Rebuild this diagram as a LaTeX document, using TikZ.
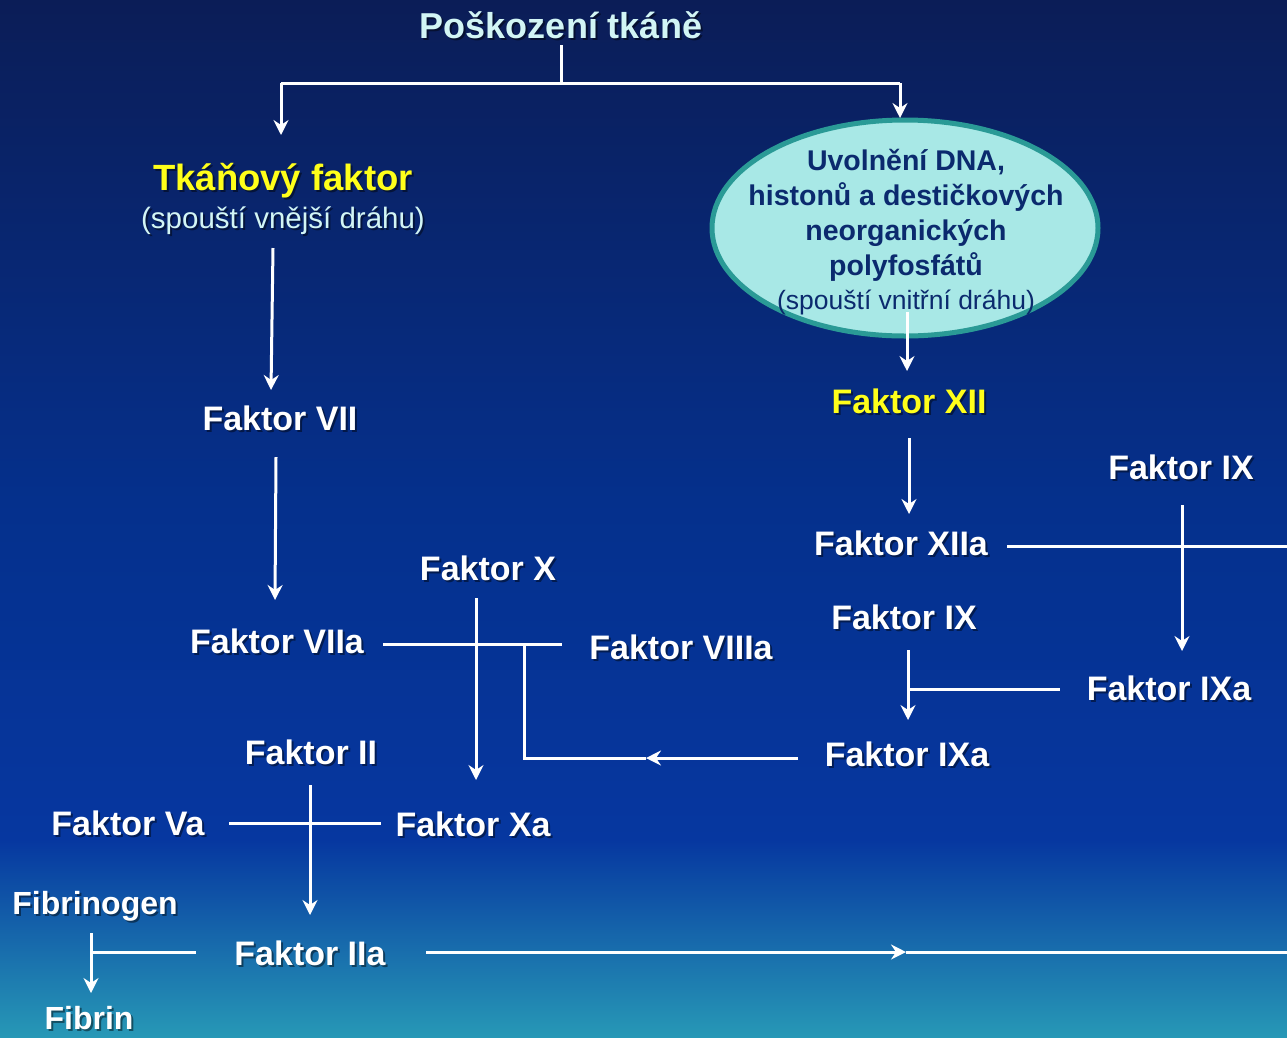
\documentclass[tikz,border=0pt]{standalone}
\usepackage{fontspec}
\setmainfont{Liberation Sans}
\usetikzlibrary{arrows.meta,shapes.geometric}
\definecolor{bgA}{HTML}{0B1D57}
\definecolor{bgB}{HTML}{05308C}
\definecolor{bgC}{HTML}{0637A0}
\definecolor{bgD}{HTML}{2798B6}
\definecolor{titlec}{HTML}{D2F5F5}
\definecolor{yel}{HTML}{FFFF1A}
\definecolor{elfill}{HTML}{A8E8E6}
\definecolor{eldraw}{HTML}{2A9A96}
\definecolor{eltext}{HTML}{0B2A6E}
\tikzset{
  lbl/.style={font=\bfseries\fontsize{34}{40}\selectfont, text=white, inner sep=0pt, anchor=center},
  shad/.style={text=black, opacity=0.45, xshift=2pt, yshift=-2pt},
  wire/.style={draw=white, line width=3pt},
  arr/.style={wire, -{Stealth[length=15pt,width=15pt,inset=5pt]}},
}
\newcommand\lab[4][]{%
  \node[lbl,#1,shad] (#2s) at (#3) {#4};
  \node[lbl,#1] (#2) at (#3) {#4};}
\begin{document}
\begin{tikzpicture}[x=1pt,y=-1pt]
\useasboundingbox (0,0) rectangle (1287,1037);
\fill[top color=bgA, bottom color=bgB] (0,0) rectangle (1287,500);
\fill[top color=bgB, bottom color=bgC] (0,499) rectangle (1287,840);
\fill[top color=bgC, bottom color=bgD] (0,839) rectangle (1287,1037);

% labels
\lab[text=titlec, font=\bfseries\fontsize{36}{40}\selectfont]{title}{561,25}{Poškození tkáně}
\lab[text=yel, font=\bfseries\fontsize{36.5}{40}\selectfont]{tf}{283,181}{Tkáňový faktor}
\lab[text=titlec, font=\fontsize{29.5}{34}\selectfont]{tfs}{283,221}{(spouští vnější dráhu)}

\node[ellipse, draw=eldraw, line width=5pt, fill=elfill, minimum width=386pt, minimum height=216pt, inner sep=0pt] (dna) at (905,228) {};
\node[text=eltext, align=center, inner sep=0pt, font=\bfseries\fontsize{28.5}{35}\selectfont] (dnat) at (906,232)
  {Uvolnění DNA,\\histonů a destičkových\\neorganických\\polyfosfátů\\[-1pt]{\mdseries\fontsize{26.5}{34}\selectfont (spouští vnitřní dráhu)}};

\lab{f7}{280,418}{Faktor VII}
\lab[text=yel]{f12}{909,401}{Faktor XII}
\lab{f9r}{1181,467}{Faktor IX}
\lab{f12a}{901,543}{Faktor XIIa}
\lab{f10}{488,568}{Faktor X}
\lab{f9}{904,617}{Faktor IX}
\lab{f7a}{277,641}{Faktor VIIa}
\lab{f8a}{681,647}{Faktor VIIIa}
\lab{f9ar}{1169,688}{Faktor IXa}
\lab{f2}{311,752}{Faktor II}
\lab{f9a}{907,754}{Faktor IXa}
\lab{f5a}{128,823}{Faktor Va}
\lab{f10a}{473,824}{Faktor Xa}
\lab[font=\bfseries\fontsize{32}{38}\selectfont]{fbg}{95,906}{Fibrinogen}
\lab{f2a}{310,953}{Faktor IIa}
\lab[font=\bfseries\fontsize{32}{38}\selectfont]{fbn}{89,1018}{Fibrin}

% junction coordinates
\coordinate (j0) at (561,83);
\coordinate (jl) at (281,83);
\coordinate (jr) at (900,83);
\coordinate (jrt) at (900,118);
\coordinate (j12) at (1182,546);
\coordinate (j9) at (908,689);
\coordinate (jx) at (476,644);
\coordinate (j8) at (524,644);
\coordinate (j8b) at (524,758);
\coordinate (m9a) at (646,758);
\coordinate (j2) at (310,823);
\coordinate (jf) at (91,952);
\coordinate (m2a) at (906,952);
\coordinate (e12) at (1287,546);
\coordinate (e2a) at (1287,952);

% connectors
\draw[wire] (title.south |- 0,45) -- (j0);
\draw[wire] (j0) -- (jl);
\draw[wire] (j0) -- (jr);
\draw[arr] (jl) -- (281,135);
\draw[arr] (jr) -- (jrt);
\draw[arr] (273,248) -- (271,390);
\draw[arr] (907,312) -- (907,371);
\draw[arr] (276,457) -- (275,600);
\draw[arr] (909,438) -- (909,514);
\draw[wire] (1007,546) -- (e12);
\draw[arr] (1182,505) -- (1182,651);
\draw[arr] (908,650) -- (908,720);
\draw[wire] (j9) -- (1060,689);
\draw[wire] (383,644) -- (562,644);
\draw[arr] (476,598) -- (476,780);
\draw[arr] (798,758) -- (m9a);
\draw[wire] (m9a) -- (j8b) -- (j8);
\draw[arr] (310,785) -- (310,915);
\draw[wire] (229,823) -- (381,823);
\draw[arr] (91,933) -- (91,993);
\draw[wire] (jf) -- (196,952);
\draw[arr] (426,952) -- (m2a);
\draw[wire] (m2a) -- (e2a);
\end{tikzpicture}
\end{document}
